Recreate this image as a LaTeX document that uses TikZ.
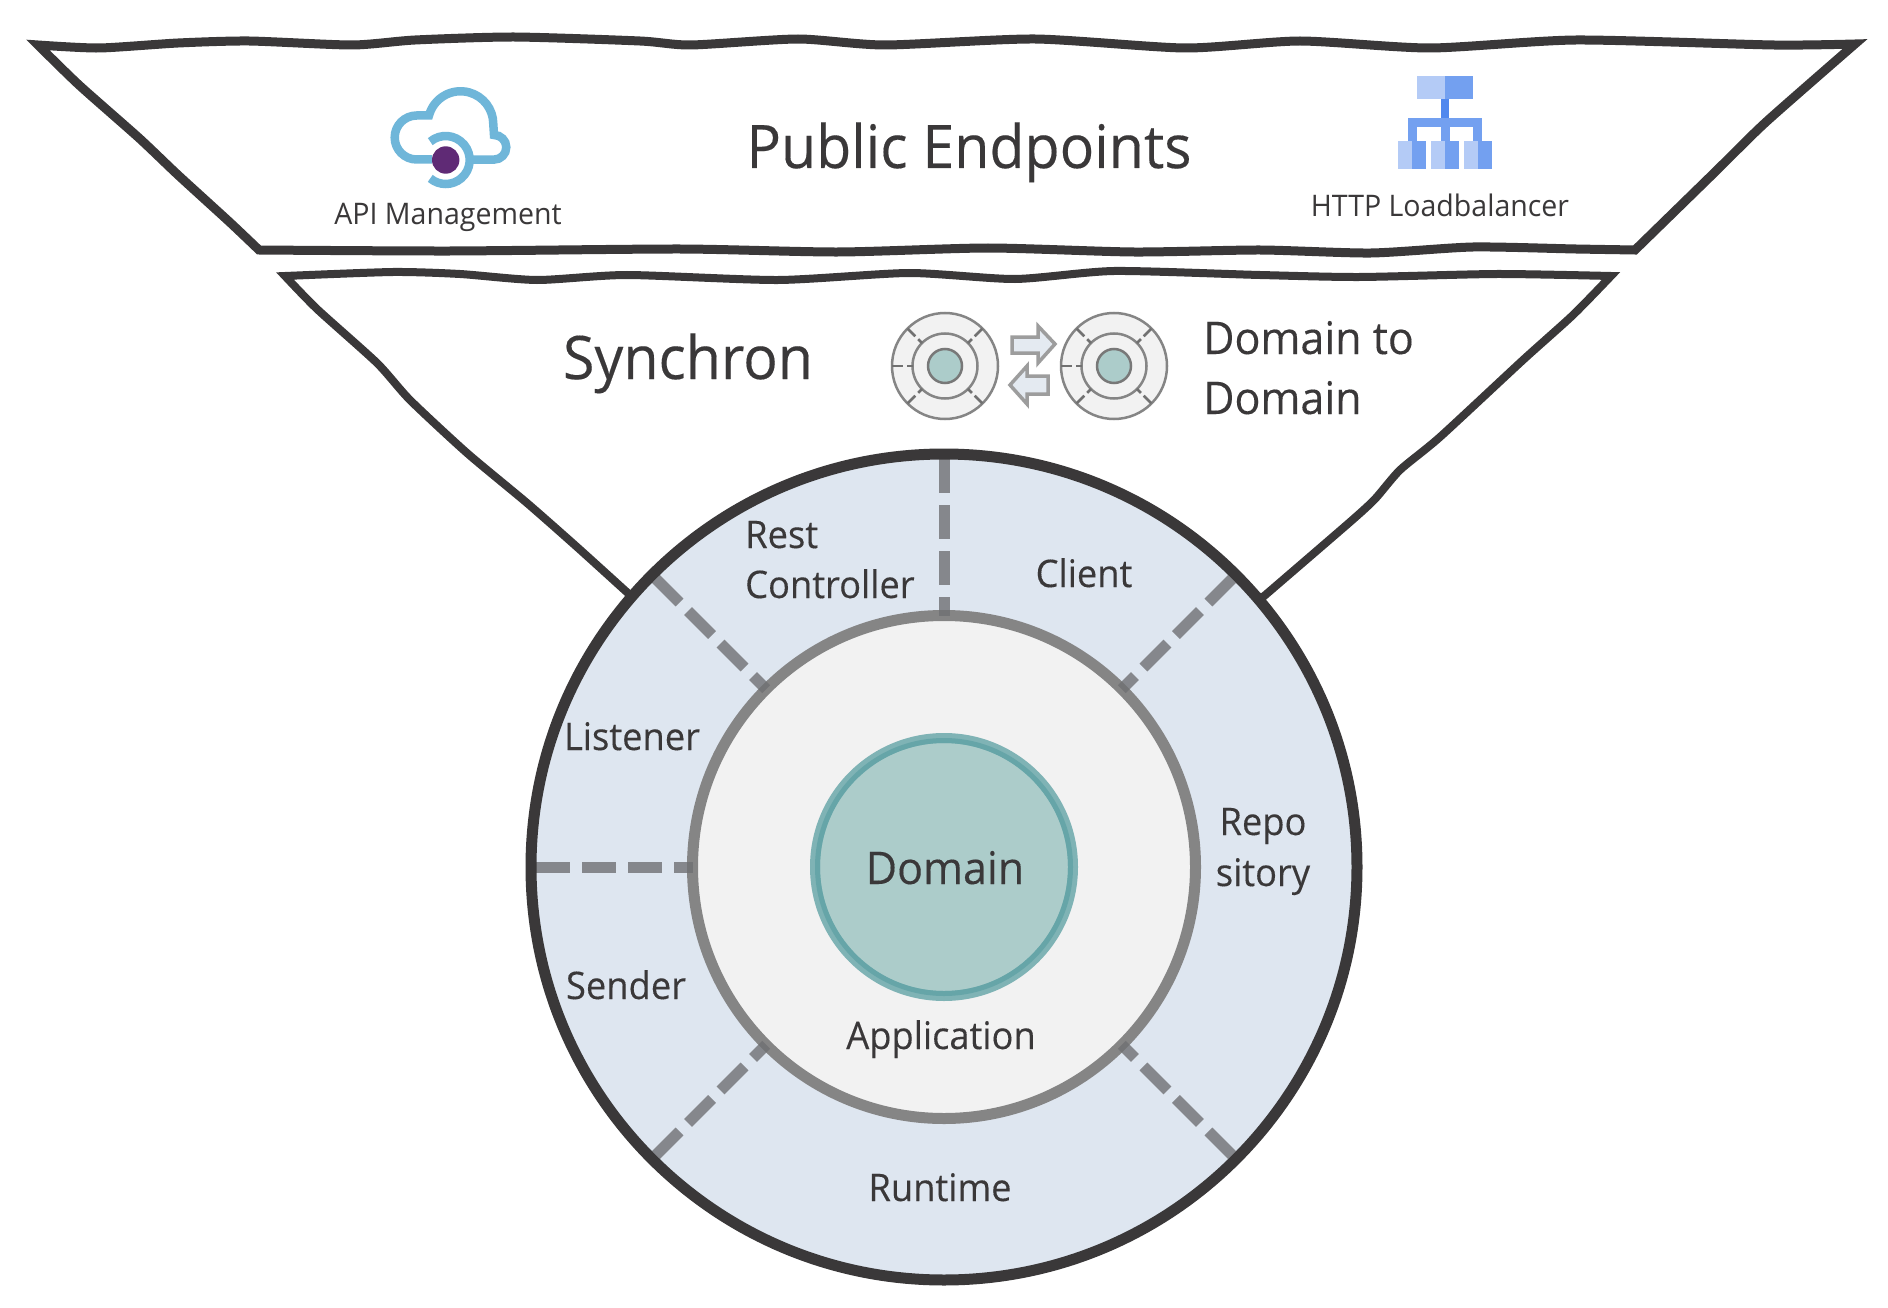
\documentclass[tikz,border=0pt]{standalone}
\usepackage{fontspec}
\setmainfont{Open Sans}[FakeStretch=0.955,FakeBold=0.25]
\newfontfamily\iconfont{Open Sans}[FakeStretch=0.96]
\definecolor{inkdark}{HTML}{3A3839}
\definecolor{bandblue}{HTML}{DEE6F0}
\definecolor{ringgrey}{HTML}{858585}
\definecolor{spokegrey}{HTML}{6F7073}
\definecolor{paleface}{HTML}{F2F2F2}
\definecolor{coreface}{HTML}{ACCCCA}
\definecolor{corelight}{HTML}{7FB3B5}
\definecolor{coreline}{HTML}{66A5A8}
\definecolor{cloudblue}{HTML}{6FB6D9}
\definecolor{dotpurple}{HTML}{5F2A75}
\definecolor{lblight}{HTML}{B4CBF6}
\definecolor{lbdark}{HTML}{73A0F0}
\definecolor{lbstem}{HTML}{5088EE}
\tikzset{
  funnel/.style={draw=inkdark,line width=9pt,fill=white,line join=miter,miter limit=8},
  disc/.style={circle,inner sep=0pt,outer sep=0pt},
  spoke/.style={draw=spokegrey,opacity=.8,line width=11pt,dash pattern=on 34pt off 12pt,shorten <=5pt},
  minispoke/.style={draw=ringgrey!85!black,line width=2.5pt,dash pattern=on 11pt off 4pt},
  minidisc/.style={disc,draw=ringgrey,line width=2.5pt,fill=paleface},
  swaparrow/.style={draw=ringgrey!80,line width=3.5pt,fill=bandblue!70!paleface,line join=miter},
  cloudline/.style={draw=cloudblue,line width=8.5pt,line join=miter},
  label/.style={text=inkdark,font=\fontsize{38}{50}\selectfont,anchor=base},
  biglabel/.style={text=inkdark,font=\fontsize{60}{72}\selectfont,anchor=base},
  midlabel/.style={text=inkdark,font=\fontsize{45}{60}\selectfont,anchor=base},
  iconlabel/.style={text=inkdark,font=\iconfont\fontsize{29.7}{36}\selectfont,anchor=base},
  wobble/.style={smooth,tension=.4},
}
\begin{document}
\begin{tikzpicture}[x=1pt,y=1pt]
  \useasboundingbox (0,0) rectangle (1888,-1308);

  % outer funnel
  \draw [funnel] plot [wobble] coordinates {(38,-45) (99,-48) (178,-43) (249,-41) (352,-45) (415,-40)
      (514,-37) (640,-41) (691,-45) (798,-39) (885,-45) (1035,-39) (1185,-48) (1300,-41)
      (1430,-48) (1576,-40) (1774,-45) (1855,-44)}
    -- plot [wobble] coordinates {(1855,-44) (1766,-122) (1715,-172) (1635,-250)}
    -- plot [wobble] coordinates {(1635,-250) (1576,-249) (1473,-247) (1371,-253) (1260,-250) (1134,-252)
      (988,-248) (838,-252) (680,-249) (450,-251) (259,-250)}
    -- plot [wobble] coordinates {(259,-250) (229.5,-222) (178,-175) (139,-138) (79,-85) (38,-45)} -- cycle;

  % inner funnel
  \draw [funnel,line width=8pt] plot [wobble] coordinates {(285,-276) (393,-272) (460,-274) (537,-280) (627,-275)
      (778,-280) (909,-273) (1015,-279) (1114,-271) (1260,-275) (1359,-277) (1497,-274) (1611,-276)}
    -- plot [wobble] coordinates {(1611,-276) (1573,-315) (1523,-360) (1440,-437) (1400,-470) (1375,-499) (1350,-522) (1263,-597)}
    -- (630,-595)
    -- plot [wobble] coordinates {(630,-595) (577,-547) (527,-503) (467,-453) (410,-400) (377,-363) (317,-309) (285,-276)} -- cycle;

  % rings
  \node (band) [disc,minimum size=826pt,fill=bandblue] at (944,-867) {};
  \node (ring) [disc,minimum size=503pt,draw=ringgrey,line width=11pt,fill=paleface] at (944,-867) {};
  \node (coreout) [disc,minimum size=258pt,draw=corelight,line width=10pt,fill=coreface] at (944,-867) {};
  \node (core) [disc,minimum size=253pt,draw=coreline,line width=5pt] at (944,-867) {};
  \foreach \ang in {90,45,135,180,225,315}
    \draw [spoke] (band.\ang) -- (ring.\ang);
  \node [disc,minimum size=826pt,draw=inkdark,line width=11pt] at (944,-867) {};

  % labels on the rings
  \node (domain) [midlabel] at (945,-884) {Domain};
  \node (application) [label] at (941,-1049) {Application};
  \node (runtime) [label] at (940,-1201) {Runtime};
  \node (sender) [label] at (626,-999) {Sender};
  \node (listener) [label] at (632,-750) {Listener};
  \node (rest) [label,anchor=base west,inner sep=0pt] at (745,-548) {Rest};
  \node (controller) [label,anchor=base west,inner sep=0pt] at (745,-598) {Controller};
  \node (client) [label] at (1084,-587) {Client};
  \node (repo) [label] at (1263,-835) {Repo};
  \node (sitory) [label] at (1263,-886) {sitory};

  % top labels
  \node (public) [biglabel] at (969,-168) {Public Endpoints};
  \node (synchron) [biglabel] at (688,-379) {Synchron};
  \node (dtoa) [midlabel,anchor=base west,inner sep=0pt] at (1203,-354) {Domain to};
  \node (dtob) [midlabel,anchor=base west,inner sep=0pt] at (1203,-414) {Domain};
  \node (api) [iconlabel] at (448,-225) {API Management};
  \node (http) [iconlabel] at (1440,-217) {HTTP Loadbalancer};

  % small domain icons
  \foreach \name/\xc in {minia/945,minib/1114} {
    \node (\name) [minidisc,minimum size=106pt] at (\xc,-366) {};
    \node (\name r) [minidisc,minimum size=65pt] at (\xc,-366) {};
    \node (\name c) [minidisc,minimum size=34pt,fill=coreface,draw=ringgrey!90!black] at (\xc,-366) {};
    \foreach \ang in {45,135,180,225,315}
      \draw [minispoke] (\name.\ang) -- (\name r.\ang);
  }
  \draw [swaparrow] (1012,-337) -- (1038,-337) -- (1038,-326) -- (1055,-344) -- (1038,-363) -- (1038,-353) -- (1012,-353) -- cycle;
  \draw [swaparrow] (1048,-376) -- (1027,-376) -- (1027,-366) -- (1010,-385) -- (1027,-404) -- (1027,-394) -- (1048,-394) -- cycle;

  % cloud icon
  \draw [cloudline] (432,-159.5) -- (416.7,-159.5) arc (270:90:22) -- (429,-115.5)
    arc (165:0:32.7) -- (494,-135) arc (90:-90:12.3) -- (472,-159.5);
  \draw [cloudline] (445.7,-160) ++(130:24) arc (130:-130:24);
  \fill [dotpurple] (445.7,-160) circle (13.7);

  % loadbalancer icon
  \fill [lblight] (1417,-76) rectangle (1445,-99.3);
  \fill [lbdark] (1445,-76) rectangle (1473,-99.3);
  \fill [lbstem] (1440.7,-99.3) rectangle (1449.3,-118.3);
  \fill [lbdark] (1407.7,-118.3) rectangle (1482.3,-127.3);
  \foreach \xa in {1407.7,1440.7,1473}
    \fill [lbdark] (\xa,-127.3) rectangle ++(9,-14);
  \foreach \xb in {1398.3,1431,1463.7} {
    \fill [lblight] (\xb,-141) rectangle ++(14,-27.7);
    \fill [lbdark] (\xb+14,-141) rectangle ++(14,-27.7);
  }
\end{tikzpicture}
\end{document}
